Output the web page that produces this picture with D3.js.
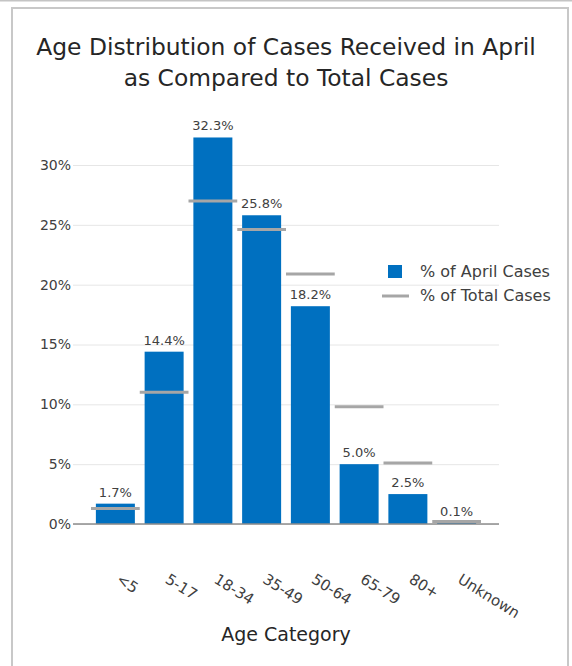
<!DOCTYPE html>
<html>
<head>
<meta charset="utf-8">
<script src="https://cdn.jsdelivr.net/npm/d3@7"></script>
<style>
  html, body { margin: 0; padding: 0; background: #fff; }
  svg { display: block; font-family: "DejaVu Sans", sans-serif; }
</style>
</head>
<body>
<svg id="chart" width="572" height="666"></svg>
<script>
// Age groups and their shares (percent)
const categories = ["<5", "5-17", "18-34", "35-49", "50-64", "65-79", "80+", "Unknown"];
const aprilPct = [1.7, 14.4, 32.3, 25.8, 18.2, 5.0, 2.5, 0.1];
const totalPct = [1.3, 11.0, 27.0, 24.6, 20.9, 9.8, 5.1, 0.2];
const yTicks = [0, 5, 10, 15, 20, 25, 30];
const titleLines = ["Age Distribution of Cases Received in April", "as Compared to Total Cases"];
const seriesNames = ["% of April Cases", "% of Total Cases"];

const rows = categories.map((c, i) => ({ cat: c, april: aprilPct[i], total: totalPct[i] }));

const svg = d3.select("#chart");
const blue = "#0070c0";
const gray = "#a6a6a6";
const textCol = "#404040";

// outer frame
svg.append("rect").attr("x", 0).attr("y", 0).attr("width", 572).attr("height", 1.5).attr("fill", "#c4c4c4");
svg.append("rect").attr("x", 12).attr("y", 8).attr("width", 556).attr("height", 700)
  .attr("fill", "#fff").attr("stroke", "#c8c8c8").attr("stroke-width", 2);

// title
svg.append("g").selectAll("text").data(titleLines).join("text")
  .attr("x", 286).attr("y", (d, i) => 55 + i * 31)
  .attr("text-anchor", "middle").attr("font-size", 23.4).attr("fill", "#262626")
  .text(d => d);

const x = d3.scaleBand().domain(categories).range([91, 481]).paddingInner(0.2).paddingOuter(0.1);
const y = d3.scaleLinear().domain([0, 30]).range([524, 165]);
const gridX0 = 73, gridX1 = 499;

// gridlines and y tick labels
const yAxis = d3.axisLeft(y).tickValues(yTicks).tickSize(-(gridX1 - gridX0)).tickPadding(2).tickFormat(d => d + "%");
const gy = svg.append("g").attr("transform", `translate(${gridX0},0)`).call(yAxis);
gy.select(".domain").remove();
gy.selectAll(".tick line").attr("stroke", "#e6e6e6");
gy.selectAll(".tick text").attr("font-size", 14).attr("fill", textCol).attr("font-family", "DejaVu Sans");

// bars
svg.append("g").selectAll("rect").data(rows).join("rect")
  .attr("x", d => x(d.cat)).attr("width", x.bandwidth())
  .attr("y", d => y(d.april)).attr("height", d => y(0) - y(d.april))
  .attr("fill", blue);

// value labels
svg.append("g").selectAll("text").data(rows).join("text")
  .attr("x", d => x(d.cat) + x.bandwidth() / 2).attr("y", d => y(d.april) - 7)
  .attr("text-anchor", "middle").attr("font-size", 13).attr("fill", textCol)
  .text(d => d.april.toFixed(1) + "%");

// x baseline
const gx = svg.append("g").attr("transform", `translate(0,${y(0)})`)
  .call(d3.axisBottom(x).tickSize(0).tickFormat(""));
gx.select(".domain").remove();
svg.append("line").attr("x1", gridX0).attr("x2", gridX1).attr("y1", y(0)).attr("y2", y(0))
  .attr("stroke", "#8c8c8c").attr("stroke-width", 1.5);

// total-share markers
const ext = x.step() * 0.1;
svg.append("g").selectAll("line").data(rows).join("line")
  .attr("x1", d => x(d.cat) - ext).attr("x2", d => x(d.cat) + x.bandwidth() + ext)
  .attr("y1", d => y(d.total)).attr("y2", d => y(d.total))
  .attr("stroke", gray).attr("stroke-width", 3);

// rotated category labels
svg.append("g").selectAll("text").data(categories).join("text")
  .attr("transform", d => `translate(${x(d) + x.bandwidth() / 2},582) rotate(32)`)
  .attr("font-size", 15).attr("fill", textCol)
  .text(d => d);

// x axis title
svg.append("text").attr("x", 286).attr("y", 641).attr("text-anchor", "middle")
  .attr("font-size", 19).attr("fill", "#262626").text("Age Category");

// legend
const lg = svg.append("g");
lg.append("rect").attr("x", 388).attr("y", 265).attr("width", 14).attr("height", 13).attr("fill", blue);
lg.append("line").attr("x1", 382).attr("x2", 409).attr("y1", 296).attr("y2", 296)
  .attr("stroke", gray).attr("stroke-width", 3);
lg.selectAll("text").data(seriesNames).join("text")
  .attr("x", 420).attr("y", (d, i) => 277 + i * 24)
  .attr("font-size", 16).attr("fill", textCol).text(d => d);
</script>
</body>
</html>
